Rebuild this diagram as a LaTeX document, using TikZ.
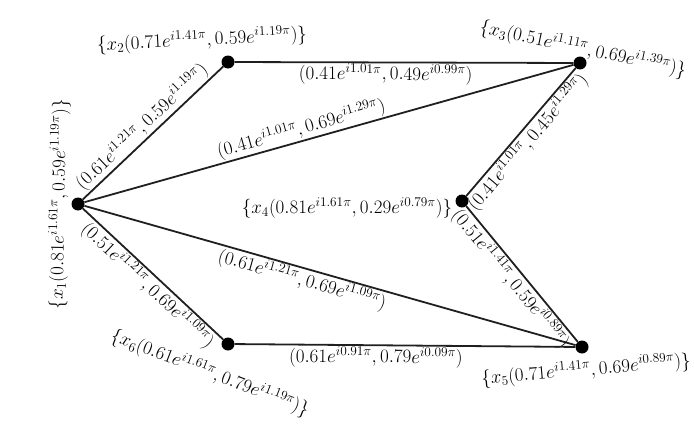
\RequirePackage{fix-cm}
\documentclass[tikz,border=0pt]{standalone}
\begin{document}
\begin{tikzpicture}[x=1pt,y=-1pt,
  dot/.style={circle,fill=black,inner sep=0pt,minimum size=13pt},
  edge/.style={line width=1.8pt,draw=black!88},
  lbl/.style={font=\fontsize{19}{22}\selectfont,inner sep=1pt},
  elbl/.style={lbl,sloped}]
\useasboundingbox (0,0) rectangle (694,431);
\node[dot] (x1) at (78,204) {};
\node[dot] (x2) at (228,62) {};
\node[dot] (x3) at (580,63) {};
\node[dot] (x4) at (462,201) {};
\node[dot] (x5) at (582,347) {};
\node[dot] (x6) at (228,344) {};
\draw[edge] (x2) -- node[elbl,below,pos=0.446]{$(0.41e^{i1.01\pi},0.49e^{i0.99\pi})$} (x3);
\draw[edge] (x1) -- node[elbl,above,pos=0.48]{$(0.61e^{i1.21\pi},0.59e^{i1.19\pi})$} (x2);
\draw[edge] (x1) -- node[elbl,above,pos=0.45]{$(0.41e^{i1.01\pi},0.69e^{i1.29\pi})$} (x3);
\draw[edge] (x4) -- node[elbl,below,pos=0.48]{$(0.41e^{i1.01\pi},0.45e^{i1.29\pi})$} (x3);
\draw[edge] (x1) -- node[elbl,below,pos=0.52]{$(0.51e^{i1.21\pi},0.69e^{i1.09\pi})$} (x6);
\draw[edge] (x1) -- node[elbl,below,pos=0.45]{$(0.61e^{i1.21\pi},0.69e^{i1.09\pi})$} (x5);
\draw[edge] (x4) -- node[elbl,below,pos=0.48]{$(0.51e^{i1.41\pi},0.59e^{i0.89\pi})$} (x5);
\draw[edge] (x6) -- node[elbl,below,pos=0.415]{$(0.61e^{i0.91\pi},0.79e^{i0.09\pi})$} (x5);
\node[lbl,rotate=89] (l1) at (59,204) {$\{x_1(0.81e^{i1.61\pi},0.59e^{i1.19\pi})\}$};
\node[lbl,rotate=3] (l2) at (202,40) {$\{x_2(0.71e^{i1.41\pi},0.59e^{i1.19\pi})\}$};
\node[lbl,rotate=-12] (l3) at (583,49) {$\{x_3(0.51e^{i1.11\pi},0.69e^{i1.39\pi})\}$};
\node[lbl] (l4) at (347,208) {$\{x_4(0.81e^{i1.61\pi},0.29e^{i0.79\pi})\}$};
\node[lbl,rotate=5] (l5) at (586,370) {$\{x_5(0.71e^{i1.41\pi},0.69e^{i0.89\pi})\}$};
\node[lbl,rotate=-21] (l6) at (210,373) {$\{x_6(0.61e^{i1.61\pi},0.79e^{i1.19\pi})\}$};
\end{tikzpicture}
\end{document}
